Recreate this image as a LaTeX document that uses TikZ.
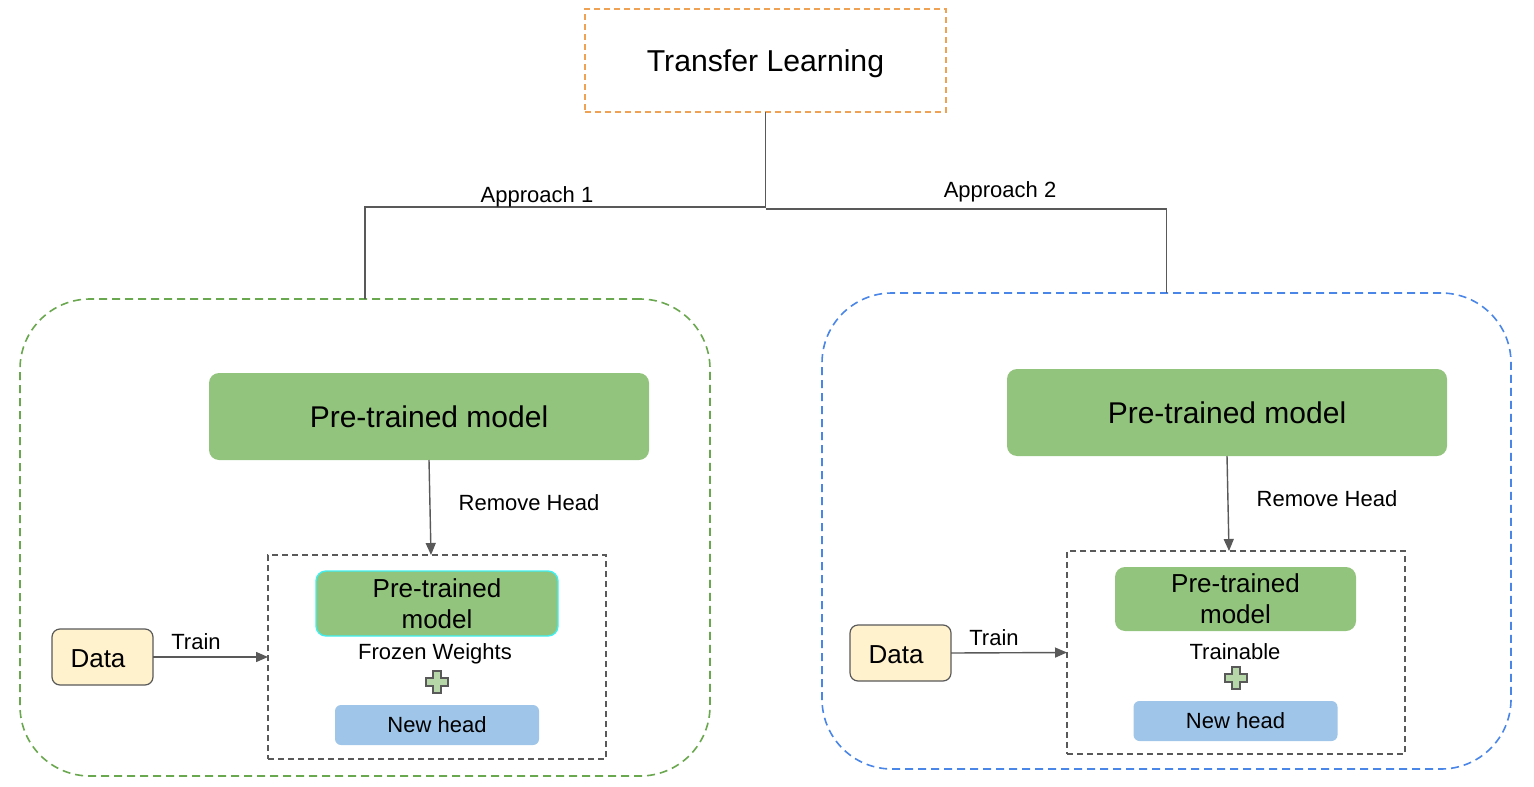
\documentclass[tikz,border=0pt]{standalone}
\usepackage{fontspec}
\setmainfont{Liberation Sans}
\usetikzlibrary{arrows.meta}
\definecolor{lineg}{HTML}{595959}
\definecolor{orng}{HTML}{F0A254}
\definecolor{grnd}{HTML}{6AA84F}
\definecolor{blued}{HTML}{4A86E8}
\definecolor{pmfill}{HTML}{93C47D}
\definecolor{headfill}{HTML}{9FC5E8}
\definecolor{datafill}{HTML}{FFF2CC}
\definecolor{cyanb}{HTML}{40F0F0}
\definecolor{plusfill}{HTML}{B6D7A8}
\tikzset{
  every node/.style={inner sep=0pt, outer sep=0pt},
  bigbox/.style={draw, line width=0.8pt, dash pattern=on 4pt off 2.5pt, rounded corners=35pt, minimum width=345pt, minimum height=238.5pt},
  pmbig/.style={fill=pmfill, rounded corners=5pt, minimum width=220pt, minimum height=43.5pt, font=\fontsize{15}{18}\selectfont},
  innerbox/.style={draw=lineg, line width=0.7pt, dash pattern=on 3pt off 2pt, minimum width=169pt, minimum height=102pt},
  pmsmall/.style={fill=pmfill, rounded corners=5pt, minimum width=121pt, minimum height=32.5pt, align=center, font=\fontsize{13}{15.5}\selectfont},
  headbox/.style={fill=headfill, rounded corners=3pt, minimum width=102pt, minimum height=20pt, font=\fontsize{11}{13}\selectfont},
  databox/.style={draw=lineg, line width=0.6pt, fill=datafill, rounded corners=4pt, minimum width=50.5pt, minimum height=28pt, font=\fontsize{13}{15}\selectfont},
  lbl/.style={font=\fontsize{11}{13}\selectfont},
  conn/.style={draw=lineg, line width=0.7pt},
  arr/.style={conn, -{Triangle[length=6pt,width=5pt]}},
  plusshape/.style={draw=lineg, line width=0.6pt, fill=plusfill},
}
\begin{document}
\begin{tikzpicture}[x=0.5pt,y=-0.5pt]
\useasboundingbox (0,0) rectangle (1534,786);
% top
\node[draw=orng, line width=0.8pt, dash pattern=on 3pt off 2pt, minimum width=180.5pt, minimum height=51.5pt, text depth=0pt, font=\fontsize{15.1}{18}\selectfont] (tl) at (765.5,60.5) {Transfer Learning};
% big boxes
\node[bigbox, draw=grnd] (bigL) at (365,537.5) {};
\node[bigbox, draw=blued, minimum width=344.5pt, minimum height=238pt] (bigR) at (1166.5,531) {};
% tree
\draw[conn] (tl.south) -- ++(0,95) coordinate (j) -| (bigL.north);
\draw[conn] ([yshift=-1pt]j) -| (bigR.north);
\node[lbl] (a1) at (537,197) {Approach 1};
\node[lbl] (a2) at (1000,192) {Approach 2};
% left
\node[pmbig] (pmL) at (429,416.5) {Pre-trained model};
\node[innerbox] (inL) at (437,657) {};
\node[pmsmall, draw=cyanb, line width=0.7pt] (ipL) at (437,603.5) {Pre-trained\\model};
\node[lbl] (fw) at (435,654) {Frozen Weights};
\node[headbox] (nhL) at (437,725) {New head};
\node[databox] (dL) at (102.5,657) {};
\node[font=\fontsize{13}{15}\selectfont] (dLt) at (98,659) {Data};
\draw[arr] (pmL.south) -- ([xshift=-3pt]inL.north);
\node[lbl] (rhL) at (529,503) {Remove Head};
\draw[arr] (dL.east) -- (inL.west);
\node[lbl] (trL) at (196,642) {Train};
\begin{scope}[shift={(437,682)}]
\draw[plusshape] (-4,-11) -- (4,-11) -- (4,-4) -- (11,-4) -- (11,4) -- (4,4) -- (4,11) -- (-4,11) -- (-4,4) -- (-11,4) -- (-11,-4) -- (-4,-4) -- cycle;
\end{scope}
% right
\node[pmbig] (pmR) at (1227,412.5) {Pre-trained model};
\node[innerbox, minimum height=101.5pt] (inR) at (1236,652.5) {};
\node[pmsmall, minimum width=120.5pt, minimum height=32pt] (ipR) at (1235.5,599) {Pre-trained\\model};
\node[lbl] (tb) at (1235,652) {Trainable};
\node[headbox] (nhR) at (1235.5,721) {New head};
\node[databox] (dR) at (900.5,653) {};
\node[font=\fontsize{13}{15}\selectfont] (dRt) at (896,655) {Data};
\draw[arr] (pmR.south) -- ([xshift=-3.5pt]inR.north);
\node[lbl] (rhR) at (1327,499) {Remove Head};
\draw[arr] (dR.east) -- (inR.west);
\node[lbl] (trR) at (994,638) {Train};
\begin{scope}[shift={(1236,678)}]
\draw[plusshape] (-4,-11) -- (4,-11) -- (4,-4) -- (11,-4) -- (11,4) -- (4,4) -- (4,11) -- (-4,11) -- (-4,4) -- (-11,4) -- (-11,-4) -- (-4,-4) -- cycle;
\end{scope}
\end{tikzpicture}
\end{document}
